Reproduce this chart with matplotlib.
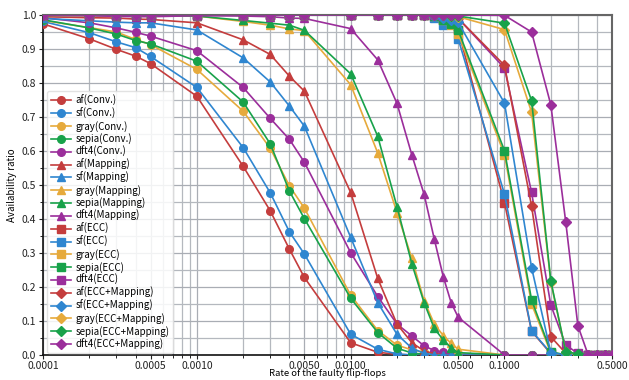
import matplotlib
matplotlib.use("Agg")
import matplotlib.pyplot as plt
from matplotlib.ticker import FixedLocator, FixedFormatter, MultipleLocator, NullFormatter
import numpy as np

plt.rcParams['font.family'] = ['Noto Sans CJK JP', 'DejaVu Sans']

x = [0.0001, 0.0002, 0.0003, 0.0004, 0.0005, 0.001, 0.002, 0.003, 0.004, 0.005,
     0.01, 0.015, 0.02, 0.025, 0.03, 0.035, 0.04, 0.045, 0.05,
     0.1, 0.15, 0.2, 0.25, 0.3, 0.35, 0.4, 0.45, 0.5]

af_conv = [0.974, 0.930, 0.899, 0.879, 0.857, 0.761, 0.555, 0.424, 0.311, 0.228,
           0.036, 0.008, 0.002, 0, 0, 0, 0, 0, 0, 0, 0, 0, 0, 0, 0, 0, 0, 0]
sf_conv = [0.981, 0.948, 0.921, 0.904, 0.878, 0.787, 0.610, 0.477, 0.362, 0.297,
           0.061, 0.017, 0.003, 0, 0, 0, 0, 0, 0, 0, 0, 0, 0, 0, 0, 0, 0, 0]
gray_conv = [0.984, 0.963, 0.950, 0.928, 0.913, 0.840, 0.717, 0.608, 0.497, 0.432,
             0.176, 0.072, 0.029, 0.015, 0.008, 0.004, 0.002, 0.001, 0, 0, 0, 0, 0, 0, 0, 0, 0, 0]
sepia_conv = [0.986, 0.962, 0.944, 0.925, 0.915, 0.864, 0.744, 0.621, 0.482, 0.401,
              0.167, 0.066, 0.020, 0.006, 0.002, 0, 0, 0, 0, 0, 0, 0, 0, 0, 0, 0, 0, 0]
dft4_conv = [0.992, 0.977, 0.962, 0.949, 0.938, 0.895, 0.787, 0.696, 0.634, 0.567,
             0.301, 0.172, 0.091, 0.056, 0.027, 0.013, 0.009, 0.005, 0.003, 0, 0, 0, 0, 0, 0, 0, 0, 0]

af_map = [0.995, 0.992, 0.991, 0.988, 0.987, 0.977, 0.927, 0.884, 0.820, 0.776,
          0.478, 0.225, 0.091, 0.036, 0.012, 0.004, 0, 0, 0, 0, 0, 0, 0, 0, 0, 0, 0, 0]
sf_map = [0.990, 0.983, 0.979, 0.977, 0.977, 0.956, 0.874, 0.803, 0.732, 0.673,
          0.346, 0.154, 0.061, 0.020, 0.005, 0, 0, 0, 0, 0, 0, 0, 0, 0, 0, 0, 0, 0]
gray_map = [0.999, 0.998, 0.998, 0.998, 0.998, 0.997, 0.981, 0.970, 0.959, 0.954,
            0.795, 0.594, 0.419, 0.284, 0.160, 0.091, 0.057, 0.034, 0.017, 0, 0, 0, 0, 0, 0, 0, 0, 0]
sepia_map = [0.999, 0.999, 0.998, 0.998, 0.998, 0.997, 0.984, 0.976, 0.970, 0.955,
             0.827, 0.643, 0.436, 0.268, 0.154, 0.078, 0.044, 0.021, 0.007, 0, 0, 0, 0, 0, 0, 0, 0, 0]
dft4_map = [0.999, 0.998, 0.996, 0.995, 0.995, 0.998, 0.997, 0.995, 0.991, 0.990,
            0.960, 0.868, 0.740, 0.588, 0.473, 0.340, 0.230, 0.154, 0.111, 0, 0, 0, 0, 0, 0, 0, 0, 0]

af_ecc = [1.0] * 15 + [0.998, 0.985, 0.975, 0.955, 0.448, 0.070, 0.004, 0, 0, 0, 0, 0, 0]
sf_ecc = [1.0] * 15 + [0.992, 0.970, 0.975, 0.930, 0.473, 0.071, 0.006, 0, 0, 0, 0, 0, 0]
gray_ecc = [1.0] * 15 + [0.996, 0.985, 0.970, 0.945, 0.589, 0.150, 0.006, 0, 0, 0, 0, 0, 0]
sepia_ecc = [1.0] * 15 + [0.996, 0.985, 0.975, 0.955, 0.601, 0.162, 0.010, 0, 0, 0, 0, 0, 0]
dft4_ecc = [1.0] * 15 + [0.999, 0.998, 0.995, 0.990, 0.844, 0.478, 0.147, 0.029, 0.005, 0, 0, 0, 0]

af_em = [1.0] * 15 + [0.999, 0.997, 0.995, 0.990, 0.852, 0.438, 0.054, 0.005, 0, 0, 0, 0, 0]
sf_em = [1.0] * 15 + [0.998, 0.990, 0.985, 0.978, 0.741, 0.257, 0.007, 0, 0, 0, 0, 0, 0]
gray_em = [1.0] * 15 + [1.0, 0.999, 0.998, 0.995, 0.957, 0.714, 0.215, 0.010, 0, 0, 0, 0, 0]
sepia_em = [1.0] * 15 + [1.0, 0.999, 0.998, 0.997, 0.976, 0.748, 0.218, 0.010, 0.003, 0, 0, 0, 0]
dft4_em = [1.0] * 19 + [0.999, 0.950, 0.736, 0.392, 0.086, 0, 0, 0, 0]

apps = ['af', 'sf', 'gray', 'sepia', 'dft4']
methods = ['Conv.', 'Mapping', 'ECC', 'ECC+Mapping']
series = {
    'Conv.': [af_conv, sf_conv, gray_conv, sepia_conv, dft4_conv],
    'Mapping': [af_map, sf_map, gray_map, sepia_map, dft4_map],
    'ECC': [af_ecc, sf_ecc, gray_ecc, sepia_ecc, dft4_ecc],
    'ECC+Mapping': [af_em, sf_em, gray_em, sepia_em, dft4_em],
}

xticks = [0.0001, 0.0005, 0.001, 0.005, 0.01, 0.05, 0.1, 0.5]
xticklabels = ['0.0001', '0.0005', '0.0010', '0.0050', '0.0100', '0.0500', '0.1000', '0.5000']

colors = ['#c43d3d', '#2f86d0', '#e6aa3c', '#18a24a', '#9b2e9b']
markers = {'Conv.': 'o', 'Mapping': '^', 'ECC': 's', 'ECC+Mapping': 'D'}
msizes = {'Conv.': 5.5, 'Mapping': 5.5, 'ECC': 5.5, 'ECC+Mapping': 4.8}

fig = plt.figure(figsize=(6.29, 3.80), dpi=100)
ax = fig.add_axes([0.0684, 0.0658, 0.9046, 0.8947])

for m in methods:
    for app, c, ys in zip(apps, colors, series[m]):
        ax.plot(x, ys, color=c, marker=markers[m], markersize=msizes[m], lw=1.2,
                label=f'{app}({m})', zorder=3)

ax.set_xscale('log')
ax.set_xlim(0.0001, 0.5)
ax.set_ylim(0.0, 1.0)

ax.xaxis.set_major_locator(FixedLocator(xticks))
ax.xaxis.set_major_formatter(FixedFormatter(xticklabels))
minor = []
for d in [1e-4, 1e-3, 1e-2, 1e-1]:
    for k in range(2, 10):
        v = k * d
        if v <= 0.5 and v not in xticks:
            minor.append(v)
ax.xaxis.set_minor_locator(FixedLocator(minor))
ax.xaxis.set_minor_formatter(NullFormatter())
ax.yaxis.set_major_locator(MultipleLocator(0.1))
ax.yaxis.set_minor_locator(MultipleLocator(0.05))
ax.yaxis.set_major_formatter(matplotlib.ticker.FormatStrFormatter('%.1f'))

ax.grid(which='major', color='#a9adb4', lw=0.9, zorder=0)
ax.grid(which='minor', color='#b4b8be', lw=0.9, zorder=0)
ax.set_axisbelow(True)

ax.tick_params(axis='both', which='major', labelsize=7.5, length=3, width=0.8,
               direction='out', colors='#222222', pad=2)
ax.tick_params(axis='x', which='major', pad=1)
ax.tick_params(axis='both', which='minor', length=2, width=0.6, direction='out')

for s in ['left', 'bottom']:
    ax.spines[s].set_color('#111111')
    ax.spines[s].set_linewidth(1.2)
for s in ['top', 'right']:
    ax.spines[s].set_color('#666666')
    ax.spines[s].set_linewidth(1.5)

ax.set_xlabel('Rate of the faulty flip-flops', fontsize=6.8, labelpad=-1)
ax.set_ylabel('Availability ratio', fontsize=7, labelpad=3)

leg = ax.legend(loc='lower left', bbox_to_anchor=(0.004, 0.0), fontsize=7.0, labelspacing=0.19,
                handlelength=2.1, handletextpad=0.45, borderpad=0.35, borderaxespad=0.2,
                frameon=True, fancybox=True, framealpha=0.85, edgecolor='#dddddd')
leg.set_zorder(5)

fig.savefig('out.png', dpi=100)
